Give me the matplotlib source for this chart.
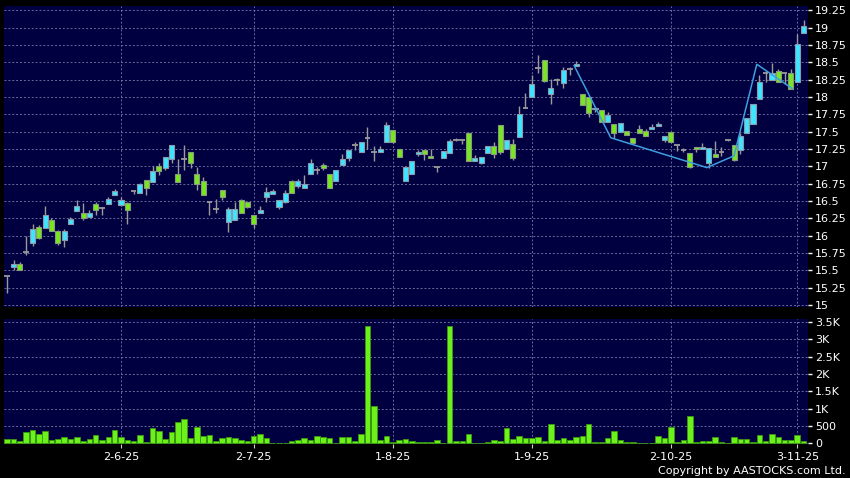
import matplotlib
matplotlib.use("Agg")
import matplotlib.pyplot as plt
import numpy as np

# daily OHLC (127 sessions)
OPEN = [15.41, 15.54, 15.59, 15.76, 15.90, 16.125, 16.115, 16.23, 16.07, 15.94,
        16.16, 16.36, 16.33, 16.27, 16.46, 16.40, 16.46, 16.59, 16.44, 16.47,
        16.64, 16.62, 16.80, 16.77, 17.00, 16.98, 17.10, 16.89, 17.10, 17.20,
        16.89, 16.79, 16.49, 16.38, 16.66, 16.20, 16.22, 16.52, 16.49, 16.30,
        16.32, 16.56, 16.60, 16.41, 16.49, 16.79, 16.72, 16.69, 16.89, 16.95,
        17.02, 16.89, 16.79, 17.02, 17.12, 17.30, 17.20, 17.41, 17.21, 17.20,
        17.35, 17.52, 17.25, 16.79, 16.89, 17.18, 17.23, 17.15, 16.99, 17.12,
        17.19, 17.38, 17.38, 17.48, 17.07, 17.05, 17.19, 17.29, 17.60, 17.25,
        17.32, 17.42, 17.84, 17.995, 18.41, 18.53, 18.04, 18.25, 18.20, 18.40,
        18.44, 18.04, 18.00, 17.82, 17.81, 17.64, 17.61, 17.50, 17.51, 17.41,
        17.54, 17.51, 17.54, 17.58, 17.38, 17.50, 17.31, 17.24, 17.19, 17.28,
        17.25, 17.04, 17.17, 17.20, 17.38, 17.30, 17.24, 17.48, 17.61, 17.97,
        18.34, 18.25, 18.37, 18.35, 18.35, 18.22, 18.92]
HIGH = [15.41, 15.65, 15.62, 16.00, 16.16, 16.15, 16.42, 16.26, 16.08, 16.10,
        16.27, 16.52, 16.47, 16.37, 16.48, 16.41, 16.56, 16.67, 16.56, 16.49,
        16.64, 16.76, 16.80, 17.00, 17.05, 17.13, 17.31, 17.10, 17.31, 17.20,
        16.99, 16.84, 16.49, 16.53, 16.66, 16.41, 16.49, 16.53, 16.49, 16.30,
        16.43, 16.70, 16.67, 16.52, 16.66, 16.80, 16.82, 16.88, 17.10, 16.99,
        17.05, 16.89, 16.94, 17.18, 17.23, 17.35, 17.35, 17.57, 17.29, 17.29,
        17.64, 17.52, 17.25, 16.99, 17.08, 17.24, 17.23, 17.25, 16.99, 17.22,
        17.39, 17.41, 17.38, 17.48, 17.16, 17.13, 17.29, 17.35, 17.60, 17.38,
        17.39, 17.875, 18.05, 18.32, 18.60, 18.53, 18.26, 18.27, 18.43, 18.43,
        18.51, 18.04, 18.00, 17.86, 17.81, 17.78, 17.61, 17.62, 17.51, 17.41,
        17.59, 17.54, 17.61, 17.64, 17.43, 17.50, 17.31, 17.26, 17.19, 17.28,
        17.34, 17.26, 17.36, 17.27, 17.38, 17.30, 17.48, 17.69, 17.89, 18.32,
        18.38, 18.49, 18.40, 18.35, 18.40, 18.90, 19.11]
LOW = [15.17, 15.51, 15.50, 15.72, 15.85, 15.95, 16.11, 16.06, 15.86, 15.84,
       16.16, 16.36, 16.23, 16.27, 16.30, 16.30, 16.46, 16.59, 16.42, 16.16,
       16.60, 16.62, 16.59, 16.77, 16.88, 16.94, 17.05, 16.77, 16.94, 16.98,
       16.65, 16.59, 16.30, 16.33, 16.51, 16.05, 16.22, 16.33, 16.40, 16.11,
       16.32, 16.49, 16.60, 16.38, 16.47, 16.62, 16.69, 16.69, 16.89, 16.89,
       16.95, 16.69, 16.79, 17.02, 17.08, 17.23, 17.20, 17.25, 17.08, 17.20,
       17.35, 17.33, 17.13, 16.79, 16.89, 17.15, 17.09, 17.12, 16.91, 17.12,
       17.19, 17.37, 17.32, 17.07, 17.07, 17.03, 17.19, 17.12, 17.18, 17.25,
       17.09, 17.42, 17.84, 17.995, 18.34, 18.21, 17.90, 18.17, 18.13, 18.32,
       18.44, 17.88, 17.71, 17.78, 17.64, 17.64, 17.40, 17.50, 17.45, 17.34,
       17.48, 17.44, 17.54, 17.58, 17.35, 17.35, 17.22, 17.21, 16.98, 17.20,
       17.25, 16.98, 17.14, 17.15, 17.37, 17.08, 17.17, 17.48, 17.61, 17.97,
       18.21, 18.25, 18.22, 18.19, 18.11, 18.22, 18.92]
CLOSE = [15.41, 15.59, 15.51, 15.76, 16.10, 15.97, 16.30, 16.07, 15.90, 16.07,
         16.24, 16.42, 16.26, 16.32, 16.37, 16.40, 16.53, 16.64, 16.52, 16.37,
         16.64, 16.74, 16.69, 16.93, 16.93, 17.13, 17.30, 16.77, 17.10, 17.04,
         16.74, 16.59, 16.49, 16.38, 16.56, 16.38, 16.38, 16.33, 16.41, 16.17,
         16.37, 16.63, 16.64, 16.52, 16.62, 16.62, 16.78, 16.74, 17.04, 16.95,
         16.98, 16.69, 16.94, 17.10, 17.23, 17.30, 17.35, 17.41, 17.21, 17.25,
         17.60, 17.35, 17.13, 16.99, 17.08, 17.20, 17.18, 17.12, 16.99, 17.22,
         17.36, 17.38, 17.38, 17.07, 17.12, 17.13, 17.29, 17.18, 17.21, 17.38,
         17.12, 17.75, 17.84, 18.19, 18.41, 18.23, 18.13, 18.25, 18.39, 18.40,
         18.47, 17.88, 17.77, 17.84, 17.64, 17.74, 17.48, 17.62, 17.45, 17.34,
         17.48, 17.44, 17.57, 17.61, 17.43, 17.35, 17.31, 17.24, 16.99, 17.245,
         17.28, 17.26, 17.14, 17.20, 17.38, 17.09, 17.44, 17.69, 17.89, 18.21,
         18.34, 18.34, 18.22, 18.35, 18.11, 18.76, 19.02]
VOLUME = [125, 125, 67, 316, 384, 259, 345, 96, 125, 182,
          125, 182, 67, 125, 240, 96, 173, 374, 182, 96,
          77, 249, 38, 431, 364, 134, 316, 604, 700, 153,
          479, 201, 230, 77, 153, 182, 163, 105, 77, 211,
          259, 144, 5, 5, 5, 58, 105, 153, 105, 220,
          182, 144, 10, 182, 182, 77, 268, 3394, 1074, 86,
          211, 38, 86, 134, 58, 38, 38, 38, 86, 10,
          3394, 67, 67, 268, 19, 19, 29, 96, 67, 451,
          134, 211, 153, 163, 173, 77, 566, 86, 144, 105,
          182, 220, 566, 29, 29, 144, 345, 96, 48, 38,
          19, 19, 10, 211, 144, 479, 38, 96, 777, 29,
          67, 77, 192, 29, 19, 192, 134, 134, 48, 240,
          77, 268, 182, 105, 96, 230, 67]

# hand-drawn pattern line (session index, price)
LINE_X = [89.7, 95.5, 110.7, 115.0, 118.6, 124.2]
LINE_Y = [18.45, 17.41, 16.98, 17.15, 18.47, 18.12]

DATE_POS = [18, 39, 61, 83, 105, 125]
DATE_LABELS = ["2-6-25", "2-7-25", "1-8-25", "1-9-25", "2-10-25", "3-11-25"]
PRICE_TICKS = [15, 15.25, 15.5, 15.75, 16, 16.25, 16.5, 16.75, 17, 17.25,
               17.5, 17.75, 18, 18.25, 18.5, 18.75, 19, 19.25]
VOL_TICKS = [0, 500, 1000, 1500, 2000, 2500, 3000, 3500]
VOL_LABELS = ["0", "500", "1K", "1.5K", "2K", "2.5K", "3K", "3.5K"]

BG = "#000040"
UP = "#3fe4ff"
DOWN = "#78e81e"
WICK = "#9a9a9a"
GRID = "#6a6a9a"
VOLC = "#6cf21a"

W, H = 850, 478
fig = plt.figure(figsize=(W / 100, H / 100), dpi=100, facecolor="black")
ax = fig.add_axes([4 / W, (H - 307) / H, 804 / W, 301 / H], facecolor=BG)
axv = fig.add_axes([4 / W, (H - 444) / H, 804 / W, 125 / H], facecolor=BG)

o = np.array(OPEN)
h = np.array(HIGH)
l = np.array(LOW)
c = np.array(CLOSE)
x = np.arange(len(o))

ax.vlines(x, l, h, color=WICK, lw=1, zorder=2)
up = c > o
down = c < o
flat = c == o
ax.bar(x[up], (c - o)[up], bottom=o[up], width=0.8, color=UP,
       edgecolor="#8a9aa8", lw=0.8, zorder=3)
ax.bar(x[down], (o - c)[down], bottom=c[down], width=0.8, color=DOWN,
       edgecolor="#8a9a80", lw=0.8, zorder=3)
ax.hlines(o[flat], x[flat] - 0.45, x[flat] + 0.45, color=WICK, lw=1.3, zorder=3)
ax.plot(LINE_X, LINE_Y, color="#3d9ee0", lw=1.1, zorder=4)

axv.bar(x, VOLUME, width=0.88, color=VOLC, edgecolor="#3a9a10", lw=0.6, zorder=3)

xlim = (-0.51, 126.7)
ax.set_xlim(*xlim)
axv.set_xlim(*xlim)
ax.set_ylim(14.97, 19.31)
axv.set_ylim(-20, 3590)

for a in (ax, axv):
    for s in a.spines.values():
        s.set_visible(False)
    a.yaxis.tick_right()
    a.tick_params(axis="y", colors="white", labelsize=8, length=3, width=1,
                  pad=2, labelcolor="white")
    a.set_xticks(DATE_POS)
    a.grid(True, color=GRID, lw=0.7, ls=(0, (2, 2)), zorder=1)
    a.set_axisbelow(True)

ax.set_yticks(PRICE_TICKS)
ax.set_yticklabels([f"{v:g}" for v in PRICE_TICKS])
ax.tick_params(axis="x", length=0, labelbottom=False)

axv.set_yticks(VOL_TICKS)
axv.set_yticklabels(VOL_LABELS)
axv.set_xticklabels(DATE_LABELS)
axv.tick_params(axis="x", colors="#cccccc", labelcolor="white", labelsize=8,
                length=3, pad=3)

fig.text(846 / W, (H - 471) / H, "Copyright by AASTOCKS.com Ltd.",
         color="white", fontsize=8, ha="right", va="center")

fig.savefig("out.png", dpi=100, facecolor="black")
